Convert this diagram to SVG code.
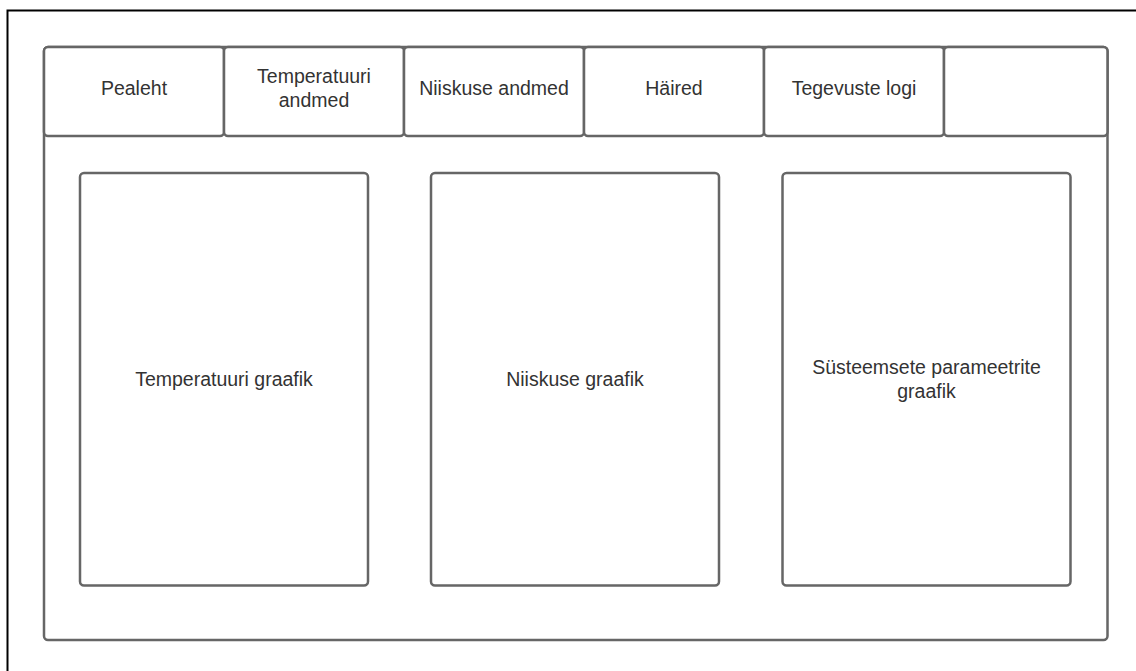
<svg xmlns="http://www.w3.org/2000/svg" width="1136" height="671" viewBox="0 0 1136 671">
<style>
.b{fill:#fff;stroke:#666;stroke-width:2.5}
.t{font-family:"Liberation Sans",Arial,sans-serif;font-size:19.5px;fill:#333;text-anchor:middle}
</style>
<rect width="1136" height="671" fill="#fff"/>
<path d="M7.5 671 V10.5 H1136" fill="none" stroke="#000" stroke-width="2"/>
<g id="frame"><rect class="b" x="44" y="47" width="1063.5" height="593" rx="4"/></g>
<g id="tab1"><rect class="b" x="44" y="47" width="180" height="89" rx="4"/><text class="t" x="134" y="95">Pealeht</text></g>
<g id="tab2"><rect class="b" x="224" y="47" width="180" height="89" rx="4"/><text class="t" x="314" y="83">Temperatuuri</text><text class="t" x="314" y="107">andmed</text></g>
<g id="tab3"><rect class="b" x="404" y="47" width="180" height="89" rx="4"/><text class="t" x="494" y="95">Niiskuse andmed</text></g>
<g id="tab4"><rect class="b" x="584" y="47" width="180" height="89" rx="4"/><text class="t" x="674" y="95">Häired</text></g>
<g id="tab5"><rect class="b" x="764" y="47" width="180" height="89" rx="4"/><text class="t" x="854" y="95">Tegevuste logi</text></g>
<g id="tab6"><rect class="b" x="944" y="47" width="163.5" height="89" rx="4"/></g>
<g id="box1"><rect class="b" x="80" y="173" width="288" height="412.5" rx="4"/><text class="t" x="224" y="386">Temperatuuri graafik</text></g>
<g id="box2"><rect class="b" x="431" y="173" width="288" height="412.5" rx="4"/><text class="t" x="575" y="386">Niiskuse graafik</text></g>
<g id="box3"><rect class="b" x="782.5" y="173" width="288" height="412.5" rx="4"/><text class="t" x="926.5" y="374">Süsteemsete parameetrite</text><text class="t" x="926.5" y="398">graafik</text></g>
<g id="connectors"/>
</svg>
